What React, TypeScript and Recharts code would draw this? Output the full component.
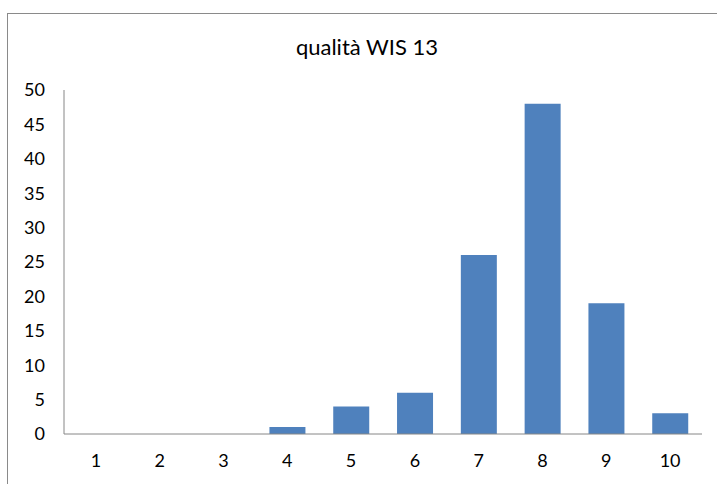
import React from 'react';
import { BarChart, Bar, XAxis, YAxis } from 'recharts';

const categories = ['1', '2', '3', '4', '5', '6', '7', '8', '9', '10'];
const values = [0, 0, 0, 1, 4, 6, 26, 48, 19, 3];
const yTicks = [0, 5, 10, 15, 20, 25, 30, 35, 40, 45, 50];
const title = 'qualità WIS 13';

const data = categories.map((c, i) => ({ name: c, value: values[i] }));

const FONT = 'Lato, "Noto Sans", sans-serif';

export default function App() {
  return (
    <div style={{ position: 'absolute', left: 0, top: 0, width: 717, height: 484, background: '#fff', overflow: 'hidden' }}>
      <div
        style={{
          position: 'absolute',
          left: 7,
          top: 13,
          width: 720,
          height: 480,
          borderLeft: '1px solid #8a8a8a',
          borderTop: '1px solid #8a8a8a',
        }}
      />
      <div
        style={{
          position: 'absolute',
          left: 0,
          width: 734,
          top: 33,
          textAlign: 'center',
          fontFamily: FONT,
          fontSize: 22,
          color: '#000',
        }}
      >
        {title}
      </div>
      <div style={{ position: 'absolute', left: 0, top: 0 }}>
        <BarChart
          width={717}
          height={484}
          data={data}
          margin={{ top: 90, right: 15, bottom: 0, left: 0 }}
          barCategoryGap="22%"
        >
          <XAxis
            dataKey="name"
            height={50}
            tickLine={false}
            axisLine={{ stroke: '#868686' }}
            tick={{ fill: '#000', fontSize: 18, fontFamily: FONT }}
            tickMargin={14}
            interval={0}
          />
          <YAxis
            width={64}
            domain={[0, 50]}
            ticks={yTicks}
            tickLine={false}
            axisLine={{ stroke: '#868686' }}
            tick={{ fill: '#000', fontSize: 18, fontFamily: FONT }}
            tickMargin={13}
            interval={0}
          />
          <Bar dataKey="value" fill="#4F81BD" isAnimationActive={false} />
        </BarChart>
      </div>
    </div>
  );
}
